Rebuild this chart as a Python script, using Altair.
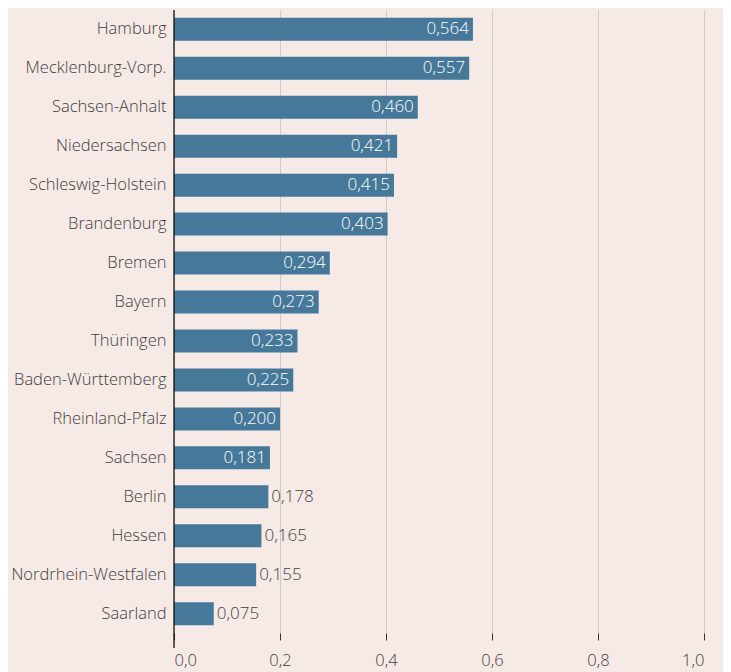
import altair as alt
import pandas as pd

states = ["Hamburg", "Mecklenburg-Vorp.", "Sachsen-Anhalt", "Niedersachsen",
          "Schleswig-Holstein", "Brandenburg", "Bremen", "Bayern", "Thüringen",
          "Baden-Württemberg", "Rheinland-Pfalz", "Sachsen", "Berlin", "Hessen",
          "Nordrhein-Westfalen", "Saarland"]
values = [0.564, 0.557, 0.460, 0.421, 0.415, 0.403, 0.294, 0.273, 0.233,
          0.225, 0.200, 0.181, 0.178, 0.165, 0.155, 0.075]

df = pd.DataFrame({"state": states, "value": values})
df["inside"] = df["value"] >= 0.18

BG = "#f6eae6"
BAR = "#46789a"
TXT = "#404040"
FONT = "Open Sans"
FW = 300
FS = 16.5
FSV = 17
W, H = 530, 623

y_enc = alt.Y("state:N", sort=None, title=None,
              scale=alt.Scale(paddingInner=0.41, paddingOuter=0.2),
              axis=alt.Axis(domain=False, ticks=False, labelPadding=8,
                            labelFontSize=FS, labelColor=TXT, labelFont=FONT,
                            labelFontWeight=FW))
x_enc = alt.X("value:Q", title=None,
              scale=alt.Scale(domain=[0, 1], nice=False),
              axis=alt.Axis(values=[0, 0.2, 0.4, 0.6, 0.8, 1.0],
                            labelExpr="replace(format(datum.value, '.1f'), '.', ',')",
                            domain=False, tickSize=7, tickColor="#333333",
                            labelPadding=12, labelFontSize=FS, labelColor=TXT,
                            labelFont=FONT, labelFontWeight=FW,
                            grid=True, gridColor="#cccccc", gridWidth=1))

base = alt.Chart(df).encode(y=y_enc)

bars = base.mark_bar(color=BAR).encode(x=x_enc)

lab_in = base.transform_filter("datum.inside").transform_calculate(
    lbl="replace(format(datum.value, '.3f'), '.', ',')"
).mark_text(align="right", dx=-4, color="white", fontSize=FSV, font=FONT,
            fontWeight=FW).encode(x="value:Q", text="lbl:N")

lab_out = base.transform_filter("!datum.inside").transform_calculate(
    lbl="replace(format(datum.value, '.3f'), '.', ',')"
).mark_text(align="left", dx=3, color=TXT, fontSize=FSV, font=FONT,
            fontWeight=FW).encode(x="value:Q", text="lbl:N")

axis_line = alt.Chart(pd.DataFrame({"v": [0]})).mark_rule(color="black", strokeWidth=1.2).encode(
    x="v:Q", y=alt.value(0), y2=alt.value(H + 15))

chart = alt.layer(bars, lab_in, lab_out, axis_line).properties(
    width=W, height=H, background=BG,
    autosize=alt.AutoSizeParams(type="none"),
    padding={"left": 166, "top": 2, "right": 19, "bottom": 39}
).configure_view(stroke=None)

chart.save("out.html", embed_options={"renderer": "svg", "actions": False})
